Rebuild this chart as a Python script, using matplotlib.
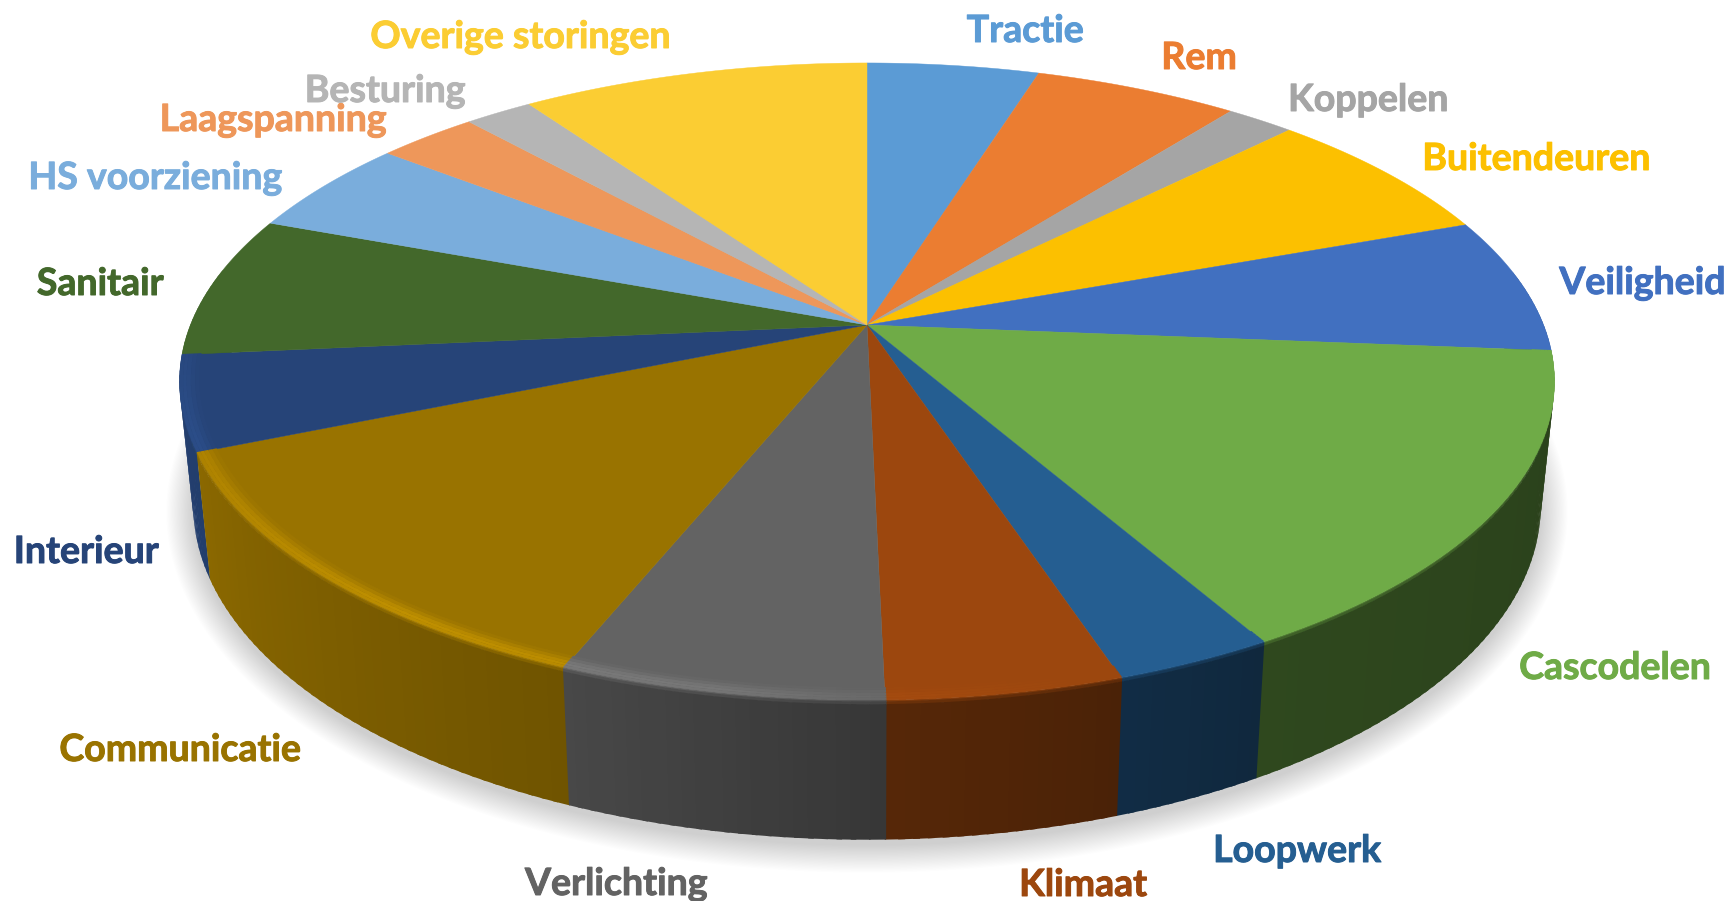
import numpy as np
import matplotlib
matplotlib.use('Agg')
import matplotlib.pyplot as plt
import matplotlib.patheffects as pe
from matplotlib.collections import PolyCollection
from matplotlib.colors import to_rgb

plt.rcParams['font.family'] = ['Lato', 'DejaVu Sans']

# clockwise from the top of the pie
labels = ['Tractie', 'Rem', 'Koppelen', 'Buitendeuren', 'Veiligheid', 'Cascodelen',
          'Loopwerk', 'Klimaat', 'Verlichting', 'Communicatie', 'Interieur', 'Sanitair',
          'HS voorziening', 'Laagspanning', 'Besturing', 'Overige storingen']
values = [4.8, 5.7, 1.9, 7.0, 6.9, 15.45, 3.2, 4.7, 6.45, 12.6, 4.8, 7.2, 4.9, 2.8, 1.9, 9.7]
colors = ['#5B9BD5', '#EB7D31', '#A5A5A5', '#FCC000', '#4170C0', '#6FAB47',
          '#255E91', '#9C470E', '#636363', '#997300', '#264478', '#43682B',
          '#7AADDC', '#EE975A', '#B5B5B5', '#FBCD33']
label_x = [1025, 1199, 1368, 1536, 1642, 1615, 1297, 1083, 616, 180, 86, 100, 155, 273, 385, 520]
label_y = [31, 58, 100, 159, 283, 668, 851, 885, 884, 750, 552, 284, 178, 120, 91, 37]

# perspective of the pie, in pixels
CX, CY = 867, 325
A, B, P = 676.6, 308.5, 0.1773
side_angles = [80, 100, 150, 178, 202, 245, 270, 280]
side_shade = [0.36, 0.38, 0.42, 0.55, 0.73, 0.9, 0.95, 0.95]
rim_angles = [95, 165, 178, 190, 215, 250, 265]
rim_shade = [1.0, 1.0, 1.05, 1.2, 1.25, 1.13, 1.06]


def project(theta, r=1.0, z=0.0):
    u = r * np.sin(theta)
    v = -r * np.cos(theta)
    w = 1 - P * v
    x, y = A * u / w, B * v / w
    top = np.array([CX + x, CY + y])
    bottom = np.array([CX + 0.98 * x, CY + 121 + 1.05 * y])
    return top + (bottom - top) * z


def shade(color, k):
    return tuple(np.clip(np.array(color) * k, 0, 1))


def mix(c1, c2, t):
    return tuple(np.array(c1) * (1 - t) + np.array(c2) * t)


def slice_steps(start, end):
    # one degree steps; each step reaches a bit into its farther neighbour so no seams show
    n = max(int(np.degrees(end - start)), 2)
    t = np.linspace(start, end, n + 1)
    lap = np.radians(0.4)
    for t0, t1 in zip(t[:-1], t[1:]):
        mid = np.degrees((t0 + t1) / 2)
        if mid < 180:
            yield mid, max(t0 - lap, start - np.radians(0.1)), min(t1 + np.radians(0.1), end)
        else:
            yield mid, t0, min(t1 + lap, end + np.radians(0.1))


fig = plt.figure(figsize=(17.27, 9.01), dpi=100)
ax = fig.add_axes([0, 0, 1, 1])
ax.set_xlim(0, 1727)
ax.set_ylim(901, 0)
ax.axis('off')

# soft shadow under the pie
circle = np.linspace(0, 2 * np.pi, 300)
rim = project(circle, z=1.0)
for d in np.linspace(27, 0, 24):
    sx = CX + (rim[0] - CX) * (1 + d / 674)
    sy = 500 + (rim[1] - 500) * (1 + d / 340) + 6
    ax.fill(sx, sy, color='black', alpha=0.008, lw=0, zorder=1)

edges = np.concatenate([[0], np.cumsum(values)]) / sum(values) * 2 * np.pi

# side wall, far strips first
strips = []
for i, c in enumerate(colors):
    base = to_rgb(c)
    for mid, t0, t1 in slice_steps(edges[i], edges[i + 1]):
        if mid < 80 or mid > 280:
            continue
        wall = shade(base, np.interp(mid, side_angles, side_shade))
        edge = shade(base, np.interp(mid, rim_angles, rim_shade))
        for z0, z1, k in [(0, 0.015, 0.6), (0.01, 0.035, 0.25), (0.03, 1, 0)]:
            pts = [project(t0, z=z0), project(t1, z=z0), project(t1, z=z1), project(t0, z=z1)]
            strips.append((abs(mid - 180), pts, mix(wall, edge, k)))
strips.sort(key=lambda s: -s[0])
ax.add_collection(PolyCollection([s[1] for s in strips], facecolors=[s[2] for s in strips],
                                 edgecolors='none', zorder=2))

# top of the pie
for i, c in enumerate(colors):
    t = np.linspace(edges[i], edges[i + 1], 80)
    arc = project(t)
    ax.fill(np.r_[CX, arc[0]], np.r_[CY, arc[1]], color=c, lw=0.3, zorder=3)

# bevel along the front rim
r_steps = [0.972, 0.978, 0.984, 0.99, 0.995, 1.0]
r_weight = [0.15, 0.45, 0.8, 1.0, 0.9]
bands = []
for i, c in enumerate(colors):
    base = to_rgb(c)
    for mid, t0, t1 in slice_steps(edges[i], edges[i + 1]):
        if mid < 95 or mid > 265:
            continue
        edge = shade(base, np.interp(mid, rim_angles, rim_shade))
        for r0, r1, k in zip(r_steps[:-1], r_steps[1:], r_weight):
            pts = [project(t0, r=r0), project(t1, r=r0), project(t1, r=r1), project(t0, r=r1)]
            bands.append((abs(mid - 180), pts, mix(base, edge, k)))
bands.sort(key=lambda b: -b[0])
ax.add_collection(PolyCollection([b[1] for b in bands], facecolors=[b[2] for b in bands],
                                 edgecolors='none', zorder=4))

for name, c, x, y in zip(labels, colors, label_x, label_y):
    ax.text(x, y, name, color=c, fontsize=27, fontweight='bold', ha='center', va='center', zorder=5,
            path_effects=[pe.withStroke(linewidth=0.7, foreground=c)])

fig.savefig('out.png', dpi=100)
